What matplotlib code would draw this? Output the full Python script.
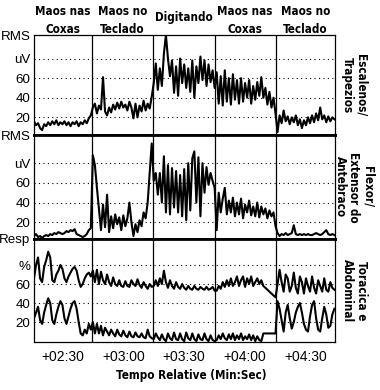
import numpy as np
import matplotlib
matplotlib.use("Agg")
import matplotlib.pyplot as plt
from matplotlib import font_manager
from matplotlib.font_manager import FontProperties
from matplotlib.transforms import blended_transform_factory

# ---- data (1 sample per second) ----
t = np.arange(136, 285)          # seconds, relative time

# Escalenos / Trapezios RMS (uV)
trapezius = [16, 12, 14, 9, 7, 13, 11, 15, 12, 16, 13, 17, 12, 15, 13, 16, 12, 15, 11, 15,
             13, 16, 11, 15, 13, 17, 14, 19, 22,
             30, 34, 24, 32, 28, 61, 26, 22, 30, 25, 33, 28, 35, 29, 36, 30, 33, 27, 36, 30,
             19, 34, 20, 32, 26, 37, 27, 34, 29, 41,
             55, 75, 48, 70, 52, 85, 104, 80, 62, 78, 45, 72, 42, 80, 55, 74, 50, 70, 46, 78,
             40, 72, 55, 82, 58, 78, 52, 74, 56, 68, 50,
             66, 34, 62, 32, 68, 36, 60, 33, 64, 38, 58, 34, 60, 36, 55, 40, 58, 34, 52, 38,
             56, 42, 61, 40, 50, 33, 46, 30, 40, 24,
             5, 22, 14, 27, 16, 21, 13, 20, 15, 22, 12, 18, 9, 17, 12, 20, 14, 22, 15, 24,
             17, 30, 18, 22, 15, 21, 16, 20, 18]

# Flexor / Extensor do Antebraco RMS (uV)
forearm = [6, 8, 5, 6, 4, 6, 7, 6, 8, 7, 9, 8, 10, 9, 8, 9, 11, 10, 12, 11,
           13, 8, 7, 6, 5, 6, 8, 12, 14,
           88, 78, 55, 34, 12, 38, 15, 48, 10, 26, 14, 28, 18, 25, 12, 27, 16, 24, 40, 20,
           6, 18, 10, 22, 16, 30, 24, 40, 70, 100,
           62, 70, 48, 70, 40, 87, 30, 78, 28, 75, 35, 72, 30, 68, 26, 74, 22, 80, 32, 85,
           92, 40, 86, 26, 80, 50, 76, 58, 70, 62, 55,
           12, 50, 30, 44, 55, 28, 42, 30, 45, 26, 40, 28, 44, 24, 38, 30, 42, 27, 36, 26,
           40, 25, 36, 28, 34, 24, 32, 26, 30, 16,
           9, 6, 8, 7, 9, 7, 8, 9, 17, 8, 7, 8, 7, 8, 7, 8, 7, 7, 8, 9,
           8, 7, 8, 10, 12, 8, 7, 8, 7]

# Respiration (%), thoracic and abdominal
thoracic = [66, 80, 88, 66, 62, 78, 85, 94, 88, 64, 62, 70, 74, 80, 76, 66, 62, 68, 72, 76,
            78, 74, 64, 57, 60, 66, 70, 72, 68,
            74, 62, 75, 60, 73, 64, 60, 70, 62, 58, 67, 60, 58, 64, 58, 57, 63, 58, 57, 64,
            60, 58, 65, 59, 56, 62, 58, 55, 60, 57,
            58, 64, 58, 66, 60, 74, 62, 56, 64, 58, 55, 62, 57, 55, 60, 56, 54, 58, 55, 54,
            58, 55, 54, 57, 55, 54, 57, 54, 55, 57, 53,
            53, 58, 55, 62, 57, 64, 58, 66, 58, 62, 68, 58, 64, 68, 57, 66, 60, 68, 58, 62,
            66, 60, 64, 58, 56, 54, 52, 50, 48, 46,
            60, 75, 62, 52, 70, 66, 52, 58, 72, 56, 50, 68, 62, 50, 66, 58, 52, 68, 56, 50,
            64, 58, 52, 66, 54, 52, 62, 56, 54]

abdominal = [24, 30, 36, 22, 18, 30, 38, 45, 40, 22, 18, 28, 36, 42, 38, 24, 18, 26, 34, 40,
             42, 34, 20, 8, 6, 12, 8, 18, 12,
             20, 8, 18, 8, 16, 6, 14, 10, 6, 12, 8, 5, 12, 7, 5, 11, 6, 4, 10, 5,
             4, 9, 5, 4, 8, 4, 3, 12, 5, 3,
             2, 8, 4, 1, 7, 2, 0, 8, 3, 1, 9, 2, 1, 8, 2, 0, 9, 3, 1, 8,
             2, 0, 7, 2, 1, 8, 2, 0, 6, 1, 0,
             1, 6, 2, 8, 3, 1, 7, 2, 8, 1, 6, 2, 8, 1, 5, 2, 7, 1, 6, 0,
             5, 1, 0, 8, 8, 8, 8, 8, 8, 8,
             42, 34, 22, 10, 30, 38, 24, 13, 20, 30, 36, 40, 30, 18, 12, 10, 26, 38, 42, 24,
             12, 10, 24, 36, 28, 14, 16, 28, 34]

phase_edges = [164.5, 194.5, 225, 255]
phase_labels = ["Maos nas\nCoxas", "Maos no\nTeclado", "Digitando",
                "Maos nas\nCoxas", "Maos no\nTeclado"]
time_ticks = [150, 180, 210, 240, 270]
time_labels = ["+02:30", "+03:00", "+03:30", "+04:00", "+04:30"]
grid_vals = [20, 40, 60, 80]
panel_names = ["Escalenos/\nTrapezios", "Flexor/\nExtensor do\nAntebraco",
               "Toracica e\nAbdominal"]

# a condensed bold face if one is installed, else plain bold a bit smaller
cond = [f.fname for f in font_manager.fontManager.ttflist
        if ("Condensed" in f.fname or "Narrow" in f.fname)
        and "Bold" in f.fname and "Oblique" not in f.fname and "Italic" not in f.fname]
if cond:
    BOLD = FontProperties(fname=sorted(cond)[0], size=8.4)
else:
    BOLD = FontProperties(family="Liberation Sans", weight="bold", size=7.2)
PLAIN = "Liberation Sans"

W, H = 380, 390
fig = plt.figure(figsize=(W / 100, H / 100), dpi=100)

x0, x1 = 34, 335
panels = [(35, 135, (2, 104), "RMS"), (135, 239, (3, 108.6), "RMS"),
          (239, 342, (-1, 107.4), "Resp")]
axes = []
for top, bot, ylim, toplab in panels:
    ax = fig.add_axes([x0 / W, 1 - bot / H, (x1 - x0) / W, (bot - top) / H])
    ax.set_xlim(136, 284.3)
    ax.set_ylim(*ylim)
    mid = "%" if toplab == "Resp" else "uV"
    ax.set_yticks(grid_vals + [ylim[1]])
    ax.set_yticklabels(["20", "40", "60", mid, toplab], family=PLAIN, fontsize=9.6)
    ax.tick_params(length=0, pad=2.5)
    for g in grid_vals:
        ax.axhline(g, color="black", lw=0.8, ls=(0, (1, 3)), zorder=1)
    for e in phase_edges:
        ax.axvline(e, color="black", lw=0.9, zorder=2)
    for s in ax.spines.values():
        s.set_linewidth(0.9)
    axes.append(ax)

axes[0].spines["bottom"].set_linewidth(2)
axes[1].spines["top"].set_linewidth(2)
axes[1].spines["bottom"].set_linewidth(2)
axes[2].spines["top"].set_linewidth(2)
for ax in axes[:2]:
    ax.set_xticks([])

axes[0].plot(t, trapezius, color="black", lw=1.5, zorder=3)
axes[1].plot(t, forearm, color="black", lw=1.5, zorder=3)
axes[2].plot(t, thoracic, color="black", lw=1.5, zorder=3)
axes[2].plot(t, abdominal, color="black", lw=1.5, zorder=3)

axes[2].set_xticks(time_ticks)
axes[2].set_xticklabels(time_labels, family=PLAIN, fontsize=10)
axes[2].tick_params(axis="x", pad=6)

# phase headers above the top panel
edges = [136] + phase_edges + [284.3]
tr = blended_transform_factory(axes[0].transData, fig.transFigure)
for i, lab in enumerate(phase_labels):
    xc = (edges[i] + edges[i + 1]) / 2
    yc = 1 - (17 if "\n" not in lab else 20.5) / H
    axes[0].text(xc, yc, lab, transform=tr, ha="center", va="center",
                 fontproperties=BOLD, linespacing=1.45)

# panel names on the right
for (top, bot, _, _), name in zip(panels, panel_names):
    fig.text(354 / W, 1 - (top + bot) / 2 / H, name, rotation=270,
             ha="center", va="center", fontproperties=BOLD,
             linespacing=1.1, multialignment="center")

fig.text(191 / W, 1 - 375 / H, "Tempo Relative (Min:Sec)", ha="center",
         va="center", fontproperties=BOLD)

fig.savefig("out.png", dpi=100, facecolor="white")
